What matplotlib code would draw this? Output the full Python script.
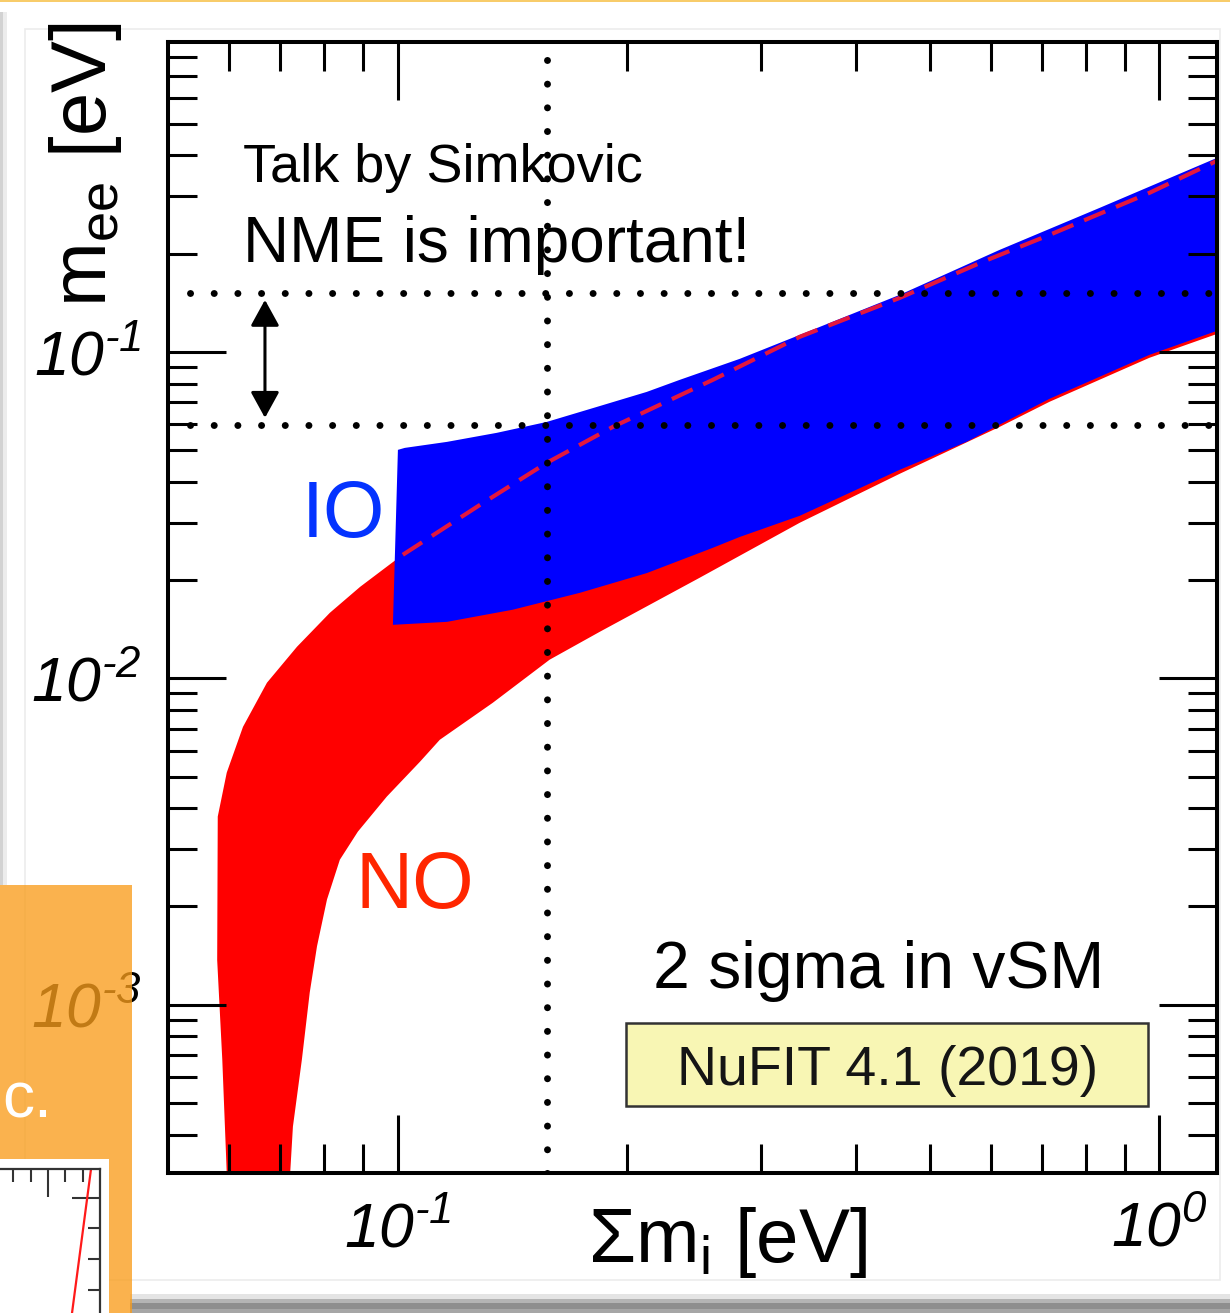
import numpy as np
import matplotlib
matplotlib.use('Agg')
import matplotlib.pyplot as plt
from matplotlib.patches import Rectangle
from matplotlib.ticker import FixedLocator, NullFormatter

plt.rcParams['font.family'] = ['Liberation Sans', 'DejaVu Sans']
plt.rcParams['mathtext.fontset'] = 'custom'
plt.rcParams['mathtext.rm'] = 'Liberation Sans:italic'
plt.rcParams['mathtext.it'] = 'Liberation Sans:italic'
plt.rcParams['mathtext.sf'] = 'Liberation Sans'

# normal ordering band: lower edge, upper edge, steep left edge (sum of masses / m_ee in eV)
no_low_sum = [0.0716, 0.0722, 0.0728, 0.0748, 0.0766, 0.0783, 0.0807, 0.0839, 0.0886, 0.0967,
              0.1069, 0.1135, 0.1332, 0.1582, 0.1841, 0.2490, 0.3370, 0.4558, 0.6166, 0.717,
              0.970, 1.19]
no_low_mee = [2.0e-4, 3.05e-4, 4.23e-4, 6.79e-4, 1.09e-3, 1.51e-3, 2.10e-3, 2.78e-3, 3.39e-3, 4.34e-3,
              5.55e-3, 6.48e-3, 8.41e-3, 0.0114, 0.01388, 0.02032, 0.02995, 0.0423, 0.0589, 0.0703,
              0.0959, 0.1135]
no_up_sum = [0.0580, 0.0596, 0.0626, 0.0673, 0.0737, 0.0814, 0.0892, 0.0985, 0.1015, 0.1282,
             0.1568, 0.1915, 0.2591, 0.3370, 0.4558, 0.5857, 0.717, 0.970, 1.19]
no_up_mee = [0.00377, 0.00514, 0.00710, 0.00969, 0.01249, 0.01587, 0.01906, 0.0227, 0.0239, 0.0340,
             0.0457, 0.0589, 0.0821, 0.1112, 0.1463, 0.1887, 0.2282, 0.307, 0.385]
no_left_sum = [0.0579, 0.0588, 0.0596, 0.0598]
no_left_mee = [1.37e-3, 6.79e-4, 3.05e-4, 2.0e-4]

# inverted ordering band
io_low_sum = [0.0985, 0.1160, 0.1415, 0.1733, 0.2122, 0.2591, 0.2811, 0.3370, 0.4558, 0.5579,
              0.717, 0.970, 1.19]
io_low_mee = [0.01458, 0.01489, 0.01622, 0.01827, 0.0210, 0.0251, 0.0271, 0.03146, 0.04351, 0.0530,
              0.0718, 0.0979, 0.1160]
io_up_sum = [0.1000, 0.1021, 0.1160, 0.1349, 0.1568, 0.1824, 0.2122, 0.2345, 0.2811, 0.3370,
             0.4558, 0.6166, 0.834, 1.19]
io_up_mee = [0.0501, 0.0508, 0.0530, 0.0565, 0.0610, 0.0678, 0.0754, 0.0821, 0.0952, 0.1127,
             0.1495, 0.2053, 0.276, 0.393]

sum_cut = 0.157
mee_range = [0.151, 0.0595]
arrow_sum = 0.0669
arrow_mee = [0.1443, 0.0628]

x_major = [0.1, 1.0]
x_major_labels = [r'$10^{\text{-}1}$', r'$10^{0}$']
x_minor = [0.06, 0.07, 0.08, 0.09, 0.2, 0.3, 0.4, 0.5, 0.6, 0.7, 0.8, 0.9]
y_major = [1e-3, 1e-2, 1e-1]
y_major_labels = [r'$10^{\text{-}3}$', r'$10^{\text{-}2}$', r'$10^{\text{-}1}$']

# small leftover panel in the corner
inset_x = [11.39, 12.49]
inset_y = [-3.77, 0.95]

W, H = 1230, 1313
fig = plt.figure(figsize=(W / 100, H / 100), dpi=100)


def fx(px):
    return px / W


def fy(py):
    return 1 - py / H


ax = fig.add_axes([fx(168), fy(1173), (1217 - 168) / W, (1173 - 42) / H])
ax.set_xscale('log')
ax.set_yscale('log')
ax.set_xlim(0.0499, 1.19)
ax.set_ylim(3.05e-4, 0.89)

no_x = np.r_[no_low_sum, no_up_sum[::-1], no_left_sum]
no_y = np.r_[no_low_mee, no_up_mee[::-1], no_left_mee]
ax.fill(no_x, no_y, color='#ff0000', lw=0, zorder=1)

io_x = np.r_[io_low_sum, io_up_sum[::-1]]
io_y = np.r_[io_low_mee, io_up_mee[::-1]]
ax.fill(io_x, io_y, color='#0000ff', lw=0, zorder=1.2)

# NO upper edge where it runs over the IO band
up_s = np.array(no_up_sum)
up_m = np.array(no_up_mee)
sel = up_s >= 0.101
ax.plot(up_s[sel], up_m[sel], color='#e3173e', lw=3.0, dashes=(5.5, 2.8), zorder=2)

dot = dict(color='black', lw=5, linestyle=(0, (0.01, 3.4)), dash_capstyle='round', zorder=3)
ax.plot([sum_cut, sum_cut], [3.05e-4, 0.89], **dot)
for m in mee_range:
    ax.plot([0.0534, 1.19], [m, m], **dot)

ax.annotate('', xy=(arrow_sum, arrow_mee[0]), xytext=(arrow_sum, arrow_mee[1]),
            arrowprops=dict(arrowstyle='<|-|>,head_length=0.4,head_width=0.22',
                            color='black', lw=2.2, mutation_scale=40,
                            shrinkA=0, shrinkB=0), zorder=4)

ax.xaxis.set_major_locator(FixedLocator(x_major))
ax.xaxis.set_minor_locator(FixedLocator(x_minor))
ax.set_xticklabels(x_major_labels)
ax.xaxis.set_minor_formatter(NullFormatter())
ax.yaxis.set_major_locator(FixedLocator(y_major))
ax.set_yticklabels(y_major_labels)
ax.yaxis.set_minor_formatter(NullFormatter())
ax.tick_params(which='both', direction='in', top=True, right=True, width=2.2, labelsize=45)
ax.tick_params(which='major', length=42)
ax.tick_params(which='minor', length=21)
ax.tick_params(axis='x', which='major', pad=20)
ax.tick_params(axis='y', which='major', pad=19)
for s in ax.spines.values():
    s.set_linewidth(2.9)

# axis titles
fig.text(fx(86), fy(165), r'$\mathsf{m_{ee}}$ [eV]', rotation=90, fontsize=56,
         ha='center', va='center')
fig.text(fx(728), fy(1262), r'Σ$\mathsf{m_i}$ [eV]', fontsize=55, ha='center', va='baseline')

fig.text(fx(243), fy(182), 'Talk by Simkovic', fontsize=39, va='baseline')
fig.text(fx(243), fy(262), 'NME is important!', fontsize=46, va='baseline')
fig.text(fx(302), fy(537), 'IO', fontsize=57, color='#0433ff', va='baseline')
fig.text(fx(356), fy(908), 'NO', fontsize=57, color='#ff2600', va='baseline')
fig.text(fx(653), fy(988), '2 sigma in vSM', fontsize=47.5, va='baseline')

fig.patches.append(Rectangle((fx(626), fy(1106)), (1148 - 626) / W, (1106 - 1023) / H,
                             transform=fig.transFigure, facecolor='#f8f6b4',
                             edgecolor='#333333', lw=1.8, zorder=3))
fig.text(fx(888), fy(1085), 'NuFIT 4.1 (2019)', fontsize=40, color='#151515',
         ha='center', va='baseline', zorder=4)

# slide decorations around the pasted figure
fig.patches.append(Rectangle((fx(25), fy(1280)), (1220 - 25) / W, (1280 - 29) / H,
                             transform=fig.transFigure, fill=False,
                             edgecolor='#ececec', lw=1.2, zorder=-1))
fig.patches.append(Rectangle((0, fy(2)), 1, 2 / H, transform=fig.transFigure,
                             color='#f8cc6a', lw=0, zorder=6))
fig.patches.append(Rectangle((0, fy(885)), 3 / W, (885 - 12) / H, transform=fig.transFigure,
                             color='#d2d2d2', lw=0, zorder=6))
fig.patches.append(Rectangle((fx(3), fy(885)), 4 / W, (885 - 12) / H, transform=fig.transFigure,
                             color='#ececec', lw=0, zorder=6))
for y0, y1, c in [(1294, 1299, '#e4e4e4'), (1299, 1303, '#b4b4b4'),
                  (1303, 1309, '#8e8e8e'), (1309, 1313, '#a6a6a6')]:
    fig.patches.append(Rectangle((fx(130), fy(y1)), (W - 130) / W, (y1 - y0) / H,
                                 transform=fig.transFigure, color=c, lw=0, zorder=6))

fig.patches.append(Rectangle((0, 0), fx(132), (H - 885) / H, transform=fig.transFigure,
                             facecolor='#f99d1c', alpha=0.78, lw=0, zorder=7))
fig.text(fx(2), fy(1118), 'c.', fontsize=46, color='white', va='baseline', zorder=8)
fig.patches.append(Rectangle((0, 0), fx(109), (H - 1159) / H, transform=fig.transFigure,
                             facecolor='white', lw=0, zorder=8))

axi = fig.add_axes([0, 0, fx(100), (H - 1169) / H], zorder=9)
axi.patch.set_alpha(0)
axi.set_xlim(7.22, 13.01)
axi.set_ylim(-3.77, 0.95)
axi.plot(inset_x, inset_y, color='#ff1a1a', lw=1.6)
for side in ['left', 'bottom']:
    axi.spines[side].set_visible(False)
for side in ['top', 'right']:
    axi.spines[side].set_linewidth(1.6)
    axi.spines[side].set_color('#333333')
axi.xaxis.tick_top()
axi.yaxis.tick_right()
axi.xaxis.set_major_locator(FixedLocator([10]))
axi.xaxis.set_minor_locator(FixedLocator([8, 9, 11, 12]))
axi.yaxis.set_major_locator(FixedLocator([0]))
axi.yaxis.set_minor_locator(FixedLocator([-1, -2, -3]))
axi.tick_params(which='both', direction='in', width=1.5, color='#333333',
                labeltop=False, labelright=False, labelbottom=False, labelleft=False)
axi.tick_params(which='major', length=20)
axi.tick_params(which='minor', length=9)

fig.savefig('out.png', dpi=100)
